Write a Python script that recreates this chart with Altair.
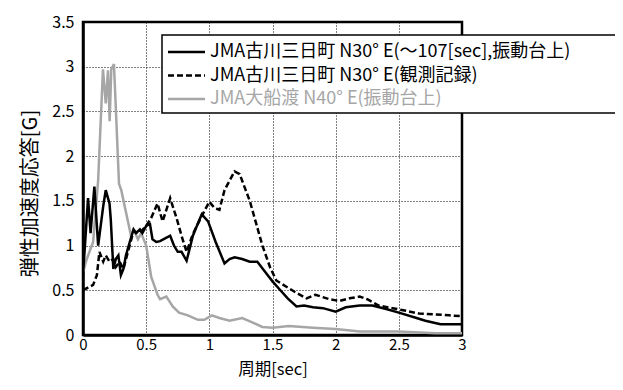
import altair as alt
import pandas as pd

series_names = [
    "JMA古川三日町 N30° E(～107[sec],振動台上)",
    "JMA古川三日町 N30° E(観測記録)",
    "JMA大船渡 N40° E(振動台上)",
]
series_colors = ["#000000", "#000000", "#a6a6a6"]

# Series 1: solid black (振動台上, ~107 sec)
x_s1 = [0, 0.04, 0.06, 0.09, 0.12, 0.16, 0.18, 0.21, 0.22, 0.24, 0.26, 0.28, 0.30,
        0.32, 0.34, 0.37, 0.40, 0.42, 0.45, 0.47, 0.50, 0.53, 0.55, 0.58, 0.61, 0.65,
        0.69, 0.72, 0.75, 0.78, 0.82, 0.87, 0.91, 0.94, 0.99, 1.05, 1.12, 1.16, 1.20,
        1.26, 1.32, 1.38, 1.45, 1.50, 1.55, 1.62, 1.69, 1.75, 1.82, 1.90, 2.0, 2.08,
        2.19, 2.29, 2.40, 2.5, 2.64, 2.71, 2.83, 3.0]
y_s1 = [0.67, 1.53, 1.14, 1.66, 1.0, 1.44, 1.62, 1.47, 1.29, 0.74, 0.85, 0.89, 0.67,
        0.74, 0.89, 1.04, 1.18, 1.14, 1.18, 1.14, 1.22, 1.24, 1.07, 1.04, 1.05, 1.08,
        1.11, 1.0, 0.93, 0.93, 0.83, 1.11, 1.25, 1.35, 1.27, 1.04, 0.80, 0.85, 0.87,
        0.85, 0.82, 0.82, 0.69, 0.60, 0.52, 0.41, 0.32, 0.33, 0.31, 0.30, 0.26, 0.31,
        0.33, 0.33, 0.29, 0.25, 0.19, 0.16, 0.12, 0.12]

# Series 2: dashed black (観測記録)
x_s2 = [0, 0.08, 0.11, 0.13, 0.16, 0.18, 0.21, 0.24, 0.26, 0.29, 0.32, 0.35, 0.40,
        0.45, 0.50, 0.54, 0.59, 0.63, 0.69, 0.74, 0.78, 0.82, 0.87, 0.94, 1.0, 1.04,
        1.08, 1.12, 1.20, 1.24, 1.32, 1.37, 1.42, 1.48, 1.53, 1.61, 1.69, 1.77, 1.84,
        1.95, 2.03, 2.11, 2.19, 2.25, 2.34, 2.45, 2.56, 2.66, 2.79, 2.90, 3.0]
y_s2 = [0.50, 0.56, 0.67, 0.93, 0.82, 0.89, 0.82, 0.85, 0.76, 0.82, 0.74, 0.90, 1.16,
        1.14, 1.22, 1.31, 1.47, 1.27, 1.53, 1.31, 1.11, 0.93, 1.13, 1.33, 1.49, 1.42,
        1.40, 1.62, 1.83, 1.80, 1.50, 1.25, 1.0, 0.76, 0.61, 0.54, 0.47, 0.41, 0.45,
        0.40, 0.38, 0.41, 0.43, 0.40, 0.33, 0.30, 0.27, 0.24, 0.23, 0.22, 0.21]

# Series 3: gray (大船渡)
x_s3 = [0, 0.03, 0.08, 0.12, 0.158, 0.18, 0.198, 0.211, 0.224, 0.245, 0.285, 0.303,
        0.38, 0.40, 0.435, 0.46, 0.50, 0.54, 0.59, 0.61, 0.66, 0.71, 0.76, 0.83, 0.91,
        0.96, 1.02, 1.08, 1.16, 1.26, 1.34, 1.42, 1.50, 1.63, 1.82, 2.0, 2.19, 2.5,
        2.79, 3.0]
y_s3 = [0.70, 0.85, 1.04, 1.73, 2.97, 2.59, 2.96, 2.39, 2.97, 3.03, 1.69, 1.62,
        1.11, 1.18, 1.07, 1.14, 1.0, 0.65, 0.45, 0.40, 0.43, 0.32, 0.25, 0.22, 0.17,
        0.17, 0.22, 0.19, 0.16, 0.19, 0.14, 0.09, 0.08, 0.10, 0.08, 0.066, 0.04, 0.04,
        0.02, 0.02]

x_ticks = [0, 0.5, 1, 1.5, 2, 2.5, 3]
y_ticks = [0, 0.5, 1, 1.5, 2, 2.5, 3, 3.5]

FONT = "Noto Sans CJK JP"
W, H = 379, 313


def frame(name, xs, ys):
    return pd.DataFrame({"series": name, "period": xs, "acc": ys})


x_enc = alt.X("period:Q",
              scale=alt.Scale(domain=[0, 3], nice=False, zero=False),
              axis=alt.Axis(values=x_ticks, format="~g", title="周期[sec]",
                            labelFlush=False, labelPadding=2, labelFontSize=15,
                            titleY=26, titleBaseline="top", titleFontSize=16.5,
                            labelOverlap=False))
y_enc = alt.Y("acc:Q",
              scale=alt.Scale(domain=[0, 3.5], nice=False),
              axis=alt.Axis(values=y_ticks, format="~g", title="弾性加速度応答[G]",
                            labelPadding=9, titleX=-53, titleY=171,
                            titleBaseline="middle", titleAlign="center",
                            titleFontSize=20, labelOverlap=False))


def line_layer(i, xs, ys, dash):
    kw = dict(strokeWidth=2.5, color=series_colors[i], clip=True)
    if dash:
        kw["strokeDash"] = dash
    return alt.Chart(frame(series_names[i], xs, ys)).mark_line(**kw).encode(
        x=x_enc, y=y_enc, order="period:Q")


gray = line_layer(2, x_s3, y_s3, None)
dashed = line_layer(1, x_s2, y_s2, [6, 3])
solid = line_layer(0, x_s1, y_s1, None)

one = pd.DataFrame({"k": [0]})
box = alt.Chart(one).mark_rect(fill="white", stroke="black", strokeWidth=1.5).encode(
    x=alt.value(79), x2=alt.value(600), y=alt.value(13), y2=alt.value(91))

legend_layers = [box]
row_y = [30, 53.5, 77]
dashes = [None, [6, 3], None]
for i, name in enumerate(series_names):
    rkw = dict(color=series_colors[i], strokeWidth=2.5)
    if dashes[i]:
        rkw["strokeDash"] = dashes[i]
    legend_layers.append(
        alt.Chart(one).mark_rule(**rkw).encode(
            x=alt.value(85), x2=alt.value(122), y=alt.value(row_y[i])))
    legend_layers.append(
        alt.Chart(pd.DataFrame({"label": [name]})).mark_text(
            align="left", baseline="middle", font=FONT, fontSize=18,
            color=series_colors[i]).encode(
            x=alt.value(127), y=alt.value(row_y[i]), text="label:N"))

chart = alt.layer(gray, dashed, solid, *legend_layers).properties(
    width=W, height=H,
    padding={"left": 75, "top": 14, "right": 153, "bottom": 47},
    autosize=alt.AutoSizeParams(type="none"),
).configure_view(
    stroke="black", strokeWidth=2.5
).configure_axis(
    domainColor="black", domainWidth=2.5,
    grid=True, gridColor="black", gridDash=[1, 2], gridWidth=1, gridOpacity=1,
    ticks=False, tickSize=0,
    labelFont=FONT, labelFontSize=16, labelColor="black",
    titleFont=FONT, titleFontSize=18, titleFontWeight="normal", titleColor="black",
)

chart.save("out.html", embed_options={"renderer": "svg", "actions": False})
